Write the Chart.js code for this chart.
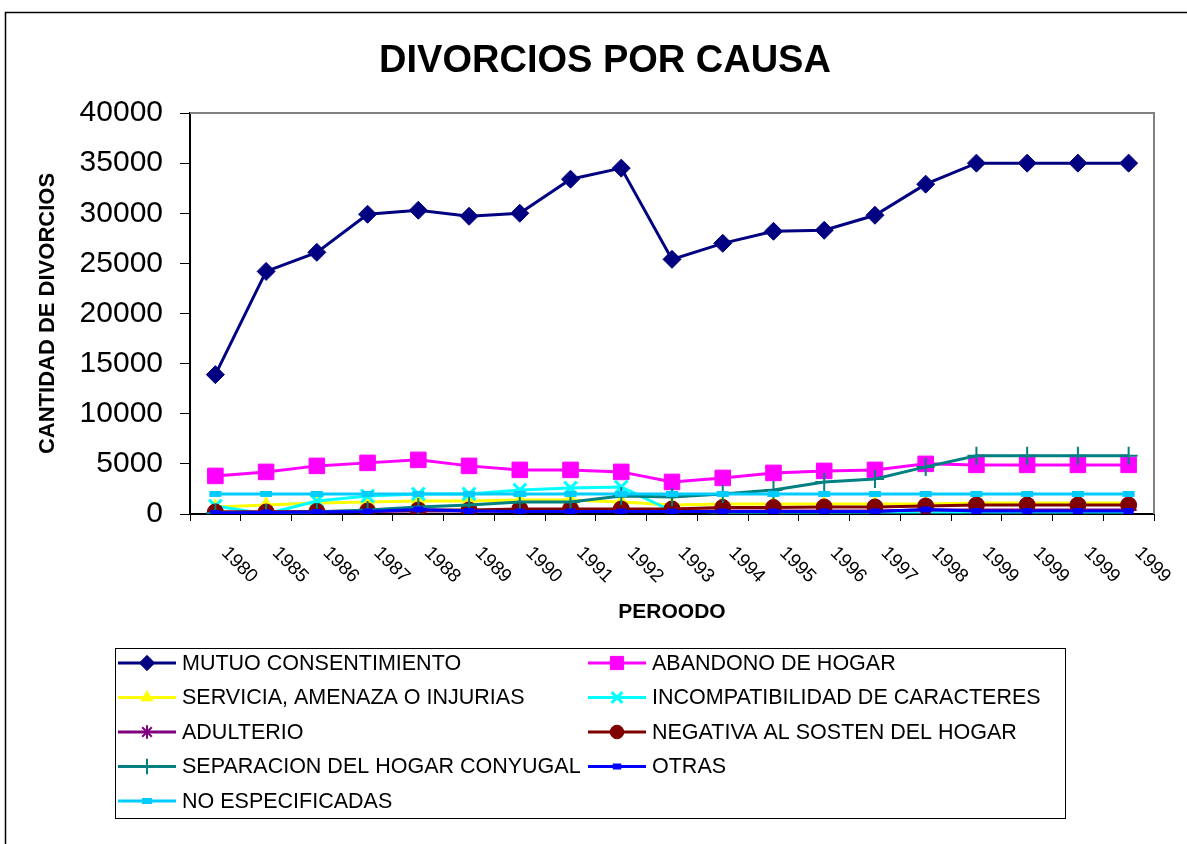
<!DOCTYPE html>
<html>
<head>
<meta charset="utf-8">
<title>DIVORCIOS POR CAUSA</title>
<script src="https://cdn.jsdelivr.net/npm/chart.js@4.4.1/dist/chart.umd.min.js"></script>
<style>
  html, body { margin: 0; padding: 0; background: #fff; }
  #wrap { position: relative; width: 1187px; height: 844px; }
</style>
</head>
<body>
<div id="wrap"><canvas id="divorciosChart" width="1187" height="844"></canvas></div>
<script>
// datos
const periodos = ['1980', '1985', '1986', '1987', '1988', '1989', '1990', '1991', '1992', '1993',
                  '1994', '1995', '1996', '1997', '1998', '1999', '1999', '1999', '1999'];
const mutuo      = [13900, 24200, 26100, 29900, 30300, 29700, 30000, 33400, 34500, 25400, 27000, 28200, 28300, 29800, 32900, 35000, 35000, 35000, 35000];
const abandono   = [3800, 4200, 4800, 5100, 5400, 4800, 4400, 4400, 4200, 3200, 3600, 4100, 4300, 4400, 5000, 4900, 4900, 4900, 4900];
const servicia   = [700, 900, 1100, 1200, 1300, 1300, 1400, 1400, 1200, 900, 1000, 1000, 1000, 1000, 1000, 1100, 1100, 1100, 1100];
const incompat   = [800, 0, 1300, 1800, 2000, 2000, 2400, 2600, 2700, 300, 200, 200, 200, 200, 200, 200, 200, 200, 200];
const adulterio  = [200, 200, 200, 250, 300, 300, 300, 300, 300, 300, 300, 300, 300, 300, 400, 400, 400, 400, 400];
const negativa   = [200, 200, 250, 300, 400, 400, 500, 500, 500, 500, 650, 650, 700, 700, 800, 900, 900, 900, 900];
const separacion = [100, 100, 200, 400, 700, 900, 1200, 1200, 1800, 1700, 2000, 2400, 3200, 3500, 4700, 5800, 5800, 5800, 5800];
const otras      = [100, 150, 200, 250, 450, 300, 250, 250, 250, 250, 250, 250, 250, 250, 450, 300, 300, 300, 300];
const noEspec    = [2000, 2000, 2000, 2000, 2000, 2000, 2000, 2000, 2000, 2000, 2000, 2000, 2000, 2000, 2000, 2000, 2000, 2000, 2000];
const yTicks     = [0, 5000, 10000, 15000, 20000, 25000, 30000, 35000, 40000];

const FONT = "'Liberation Sans', Arial, sans-serif";

// serie: etiqueta, datos, color, marcador
function serie(label, data, color, style, radius, extra) {
    return Object.assign({
        label: label,
        data: data,
        borderColor: color,
        backgroundColor: color,
        pointBackgroundColor: color,
        pointBorderColor: color,
        pointStyle: style,
        pointRadius: radius,
        pointHoverRadius: radius,
        pointBorderWidth: 1,
        borderWidth: 3,
        tension: 0,
        fill: false
    }, extra || {});
}

const datasets = [
    serie('MUTUO CONSENTIMIENTO', mutuo, '#000080', 'rectRot', 9),
    serie('ABANDONO DE HOGAR', abandono, '#FF00FF', 'rect', 11),
    serie('SERVICIA, AMENAZA O INJURIAS', servicia, '#FFFF00', 'triangle', 8),
    serie('INCOMPATIBILIDAD DE CARACTERES', incompat, '#00FFFF', 'crossRot', 9, { pointBorderWidth: 3 }),
    serie('ADULTERIO', adulterio, '#800080', 'star', 8, { pointBorderWidth: 2 }),
    serie('NEGATIVA AL SOSTEN DEL HOGAR', negativa, '#800000', 'circle', 8),
    serie('SEPARACION DEL HOGAR CONYUGAL', separacion, '#008080', 'cross', 9, { pointBorderWidth: 2 }),
    serie('OTRAS', otras, '#0000FF', 'line', 5, { pointBorderWidth: 6 }),
    serie('NO ESPECIFICADAS', noEspec, '#00CCFF', 'line', 6, { pointBorderWidth: 6 })
];
// las ultimas series quedan encima
datasets.forEach((d, i) => { d.order = datasets.length - i; });

// titulo, marco, etiquetas del eje x y leyenda
const decoracion = {
    id: 'decoracion',
    afterDraw(chart) {
        const ctx = chart.ctx;
        const area = chart.chartArea;
        const xs = chart.scales.x;
        ctx.save();

        // marco del grafico
        ctx.strokeStyle = '#000';
        ctx.lineWidth = 1.5;
        ctx.beginPath();
        ctx.moveTo(5.5, 844);
        ctx.lineTo(5.5, 12.5);
        ctx.lineTo(1187, 12.5);
        ctx.stroke();

        // borde del area de trazado
        ctx.strokeStyle = '#808080';
        ctx.lineWidth = 2;
        ctx.beginPath();
        ctx.moveTo(area.left, area.top);
        ctx.lineTo(area.right, area.top);
        ctx.lineTo(area.right, area.bottom);
        ctx.stroke();

        // titulo
        ctx.fillStyle = '#000';
        ctx.font = 'bold 38px ' + FONT;
        ctx.textAlign = 'center';
        ctx.textBaseline = 'middle';
        ctx.fillText('DIVORCIOS POR CAUSA', 605, 62);

        // etiquetas del eje x, giradas 45 grados
        ctx.font = '19px ' + FONT;
        ctx.textAlign = 'left';
        ctx.textBaseline = 'middle';
        periodos.forEach((p, i) => {
            const x = xs.getPixelForTick(i);
            ctx.save();
            ctx.translate(x + 9, area.bottom + 36);
            ctx.rotate(Math.PI / 4);
            ctx.fillText(p, 0, 0);
            ctx.restore();
        });

        // leyenda
        const box = { left: 115, top: 648, width: 950, height: 170 };
        ctx.strokeStyle = '#000';
        ctx.lineWidth = 1;
        ctx.strokeRect(box.left + 0.5, box.top + 0.5, box.width, box.height);
        const colX = [118, 588];
        ctx.font = '21.5px ' + FONT;
        chart.data.datasets.forEach((d, i) => {
            const x0 = colX[i % 2];
            const y = 663 + Math.floor(i / 2) * 34.5;
            ctx.strokeStyle = d.borderColor;
            ctx.lineWidth = 3;
            ctx.beginPath();
            ctx.moveTo(x0, y);
            ctx.lineTo(x0 + 58, y);
            ctx.stroke();
            ctx.fillStyle = d.pointBackgroundColor;
            ctx.strokeStyle = d.pointBorderColor;
            ctx.lineWidth = d.pointBorderWidth;
            Chart.helpers.drawPoint(ctx, {
                pointStyle: d.pointStyle,
                radius: d.pointRadius * 0.85,
                rotation: 0,
                borderWidth: d.pointBorderWidth
            }, x0 + 29, y);
            ctx.fillStyle = '#000';
            ctx.fillText(d.label, x0 + 64, y + 1);
        });
        ctx.restore();
    }
};

const ctx = document.getElementById('divorciosChart').getContext('2d');
new Chart(ctx, {
    type: 'line',
    data: { labels: periodos, datasets: datasets },
    options: {
        responsive: false,
        animation: false,
        layout: { padding: { left: 30, right: 33, top: 113, bottom: 200 } },
        plugins: {
            legend: { display: false },
            title: { display: false },
            tooltip: { enabled: false }
        },
        scales: {
            x: {
                offset: true,
                afterFit(scale) { scale.height = 130; },
                grid: {
                    offset: true,
                    drawOnChartArea: false,
                    drawTicks: true,
                    tickLength: 7,
                    color: '#000'
                },
                border: { color: '#000', width: 2 },
                ticks: { display: false },
                title: {
                    display: true,
                    text: 'PEROODO',
                    color: '#000',
                    font: { family: FONT, size: 21, weight: 'bold' },
                    padding: { top: 0, bottom: 19 }
                }
            },
            y: {
                min: yTicks[0],
                max: yTicks[yTicks.length - 1],
                afterFit(scale) { scale.width = 160; },
                afterBuildTicks(scale) { scale.ticks = yTicks.map(v => ({ value: v })); },
                grid: {
                    drawOnChartArea: false,
                    drawTicks: true,
                    tickLength: 10,
                    color: '#000'
                },
                border: { color: '#000', width: 2 },
                ticks: {
                    color: '#000',
                    padding: 17,
                    font: { family: FONT, size: 30 },
                    callback: function(value) { return String(value); }
                },
                title: {
                    display: true,
                    text: 'CANTIDAD DE DIVORCIOS',
                    color: '#000',
                    font: { family: FONT, size: 22, weight: 'bold' },
                    padding: { top: 5, bottom: 0 }
                }
            }
        }
    },
    plugins: [decoracion]
});
</script>
</body>
</html>
